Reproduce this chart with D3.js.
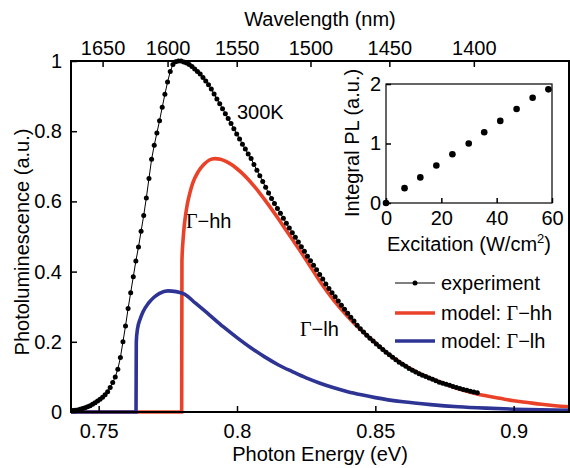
<!DOCTYPE html>
<html>
<head>
<meta charset="utf-8">
<script src="https://cdn.jsdelivr.net/npm/d3@7"></script>
<style>
body { margin: 0; background: #fff; }
svg text { font-family: "Liberation Sans", Arial, sans-serif; fill: #000; }
</style>
</head>
<body>
<div id="chart"></div>
<script>
// measured spectrum (every 2 nm)
var expWavelength = [1674,1672,1670,1668,1666,1664,1662,1660,1658,1656,1654,1652,1650,1648,1646,1644,1642,1640,1638,1636,
  1634,1632,1630,1628,1626,1624,1622,1620,1618,1616,1614,1612,1610,1608,1606,1604,1602,1600,1598,1596,
  1594,1592,1590,1588,1586,1584,1582,1580,1578,1576,1574,1572,1570,1568,1566,1564,1562,1560,1558,1556,
  1554,1552,1550,1548,1546,1544,1542,1540,1538,1536,1534,1532,1530,1528,1526,1524,1522,1520,1518,1516,
  1514,1512,1510,1508,1506,1504,1502,1500,1498,1496,1494,1492,1490,1488,1486,1484,1482,1480,1478,1476,
  1474,1472,1470,1468,1466,1464,1462,1460,1458,1456,1454,1452,1450,1448,1446,1444,1442,1440,1438,1436,
  1434,1432,1430,1428,1426,1424,1422,1420,1418,1416,1414,1412,1410,1408,1406,1404,1402,1400,1398];
var expPL = [0.004,0.005,0.006,0.008,0.010,0.012,0.015,0.018,0.022,0.026,0.031,0.036,0.042,0.049,0.058,0.070,0.084,0.100,0.122,0.155,
  0.200,0.245,0.295,0.340,0.385,0.430,0.470,0.515,0.560,0.610,0.665,0.720,0.760,0.795,0.830,0.868,0.905,0.940,0.970,0.990,
  0.998,1.000,1.000,0.997,0.994,0.990,0.984,0.977,0.970,0.963,0.953,0.943,0.932,0.920,0.906,0.892,0.878,0.864,0.850,0.836,
  0.822,0.807,0.792,0.778,0.763,0.749,0.735,0.722,0.705,0.689,0.673,0.657,0.640,0.624,0.608,0.594,0.580,0.566,0.552,0.538,
  0.524,0.511,0.498,0.484,0.471,0.458,0.444,0.431,0.418,0.405,0.392,0.379,0.365,0.352,0.340,0.328,0.316,0.304,0.293,0.281,
  0.270,0.259,0.247,0.237,0.228,0.219,0.210,0.202,0.194,0.186,0.178,0.170,0.163,0.156,0.149,0.142,0.136,0.130,0.124,0.119,
  0.114,0.109,0.105,0.101,0.097,0.093,0.089,0.085,0.082,0.079,0.076,0.073,0.070,0.067,0.064,0.062,0.059,0.057,0.055];

// model: Gamma-hh
var hhEnergy = [0.74,0.7800,0.7801,0.7805,0.781,0.782,0.783,0.784,0.786,0.788,0.790,0.792,0.794,0.796,0.798,0.800,0.802,0.804,0.806,0.808,
  0.810,0.8125,0.815,0.8175,0.820,0.8225,0.825,0.830,0.835,0.840,0.845,0.850,0.855,0.860,0.865,0.870,0.875,0.880,0.885,0.890,
  0.895,0.900,0.905,0.910,0.915,0.920];
var hhPL = [0,0,0.43,0.49,0.535,0.59,0.625,0.652,0.685,0.705,0.718,0.722,0.720,0.714,0.705,0.693,0.679,0.663,0.645,0.626,
  0.605,0.578,0.550,0.521,0.492,0.463,0.433,0.372,0.318,0.272,0.232,0.197,0.163,0.136,0.114,0.096,0.081,0.066,0.055,0.046,
  0.039,0.032,0.027,0.022,0.018,0.015];

// model: Gamma-lh
var lhEnergy = [0.74,0.7635,0.7636,0.764,0.765,0.766,0.768,0.770,0.772,0.775,0.778,0.781,0.785,0.790,0.795,0.800,0.805,0.810,0.815,0.820,
  0.825,0.830,0.835,0.840,0.845,0.850,0.860,0.870,0.880,0.890,0.900,0.910,0.920];
var lhPL = [0,0,0.20,0.235,0.265,0.285,0.31,0.327,0.338,0.345,0.343,0.336,0.31,0.277,0.243,0.212,0.183,0.157,0.134,0.115,
  0.097,0.082,0.069,0.058,0.049,0.041,0.029,0.021,0.015,0.011,0.008,0.006,0.005];

// inset
var excitation = [0,6.7,12.4,18.2,24.0,29.9,35.5,41.3,47.2,53.0,58.7];
var integralPL = [0,0.25,0.43,0.63,0.82,1.0,1.19,1.38,1.58,1.77,1.91];

var energyTicks = [0.75,0.8,0.85,0.9];
var plTicks = [0,0.2,0.4,0.6,0.8,1];
var wavelengthTicks = [1650,1600,1550,1500,1450,1400];
var excitationTicks = [0,20,40,60];
var integralTicks = [0,1,2];

var width = 570, height = 468;
var red = 'rgb(234,66,40)', blue = 'rgb(46,52,148)';

var svg = d3.select('#chart').append('svg')
  .attr('width', width)
  .attr('height', height);

var x = d3.scaleLinear().domain([0.74, 0.92]).range([71, 569]);
var y = d3.scaleLinear().domain([0, 1]).range([412, 61]);

// curves
var line = d3.line()
  .x(function(d){ return x(d[0]); })
  .y(function(d){ return y(d[1]); })
  .curve(d3.curveMonotoneX);

svg.append('path')
  .datum(d3.zip(hhEnergy, hhPL))
  .attr('d', line)
  .attr('fill', 'none')
  .attr('stroke', red)
  .attr('stroke-width', 3.6);

svg.append('path')
  .datum(d3.zip(lhEnergy, lhPL))
  .attr('d', line)
  .attr('fill', 'none')
  .attr('stroke', blue)
  .attr('stroke-width', 3.6);

var expData = expWavelength.map(function(w, i){ return [1239.84 / w, expPL[i]]; });

svg.append('path')
  .datum(expData)
  .attr('d', d3.line().x(function(d){ return x(d[0]); }).y(function(d){ return y(d[1]); }))
  .attr('fill', 'none')
  .attr('stroke', '#000')
  .attr('stroke-width', 1);

svg.selectAll('circle.exp')
  .data(expData)
  .enter()
  .append('circle')
  .attr('class', 'exp')
  .attr('cx', function(d){ return x(d[0]); })
  .attr('cy', function(d){ return y(d[1]); })
  .attr('r', 2.5)
  .attr('fill', '#000');

// axes
var fmt = d3.format('~g');
function styleAxis(g) {
  g.select('.domain').remove();
  g.selectAll('.tick line').attr('stroke', '#000').attr('stroke-width', 1.5);
  g.selectAll('.tick text').attr('font-size', 20).attr('font-family', '"Liberation Sans", Arial, sans-serif');
}

svg.append('g')
  .attr('transform', 'translate(0,412)')
  .call(d3.axisBottom(x).tickValues(energyTicks).tickFormat(fmt).tickSize(-6).tickPadding(12))
  .call(styleAxis);

svg.append('g')
  .attr('transform', 'translate(71,0)')
  .call(d3.axisLeft(y).tickValues(plTicks).tickFormat(fmt).tickSize(-6).tickPadding(9))
  .call(styleAxis);

svg.append('g')
  .attr('transform', 'translate(0,61)')
  .call(d3.axisTop(x).tickValues(wavelengthTicks.map(function(w){ return 1239.84 / w; }))
    .tickFormat(function(e){ return Math.round(1239.84 / e); }).tickSize(-6).tickPadding(6))
  .call(styleAxis);

svg.append('rect')
  .attr('x', 71).attr('y', 61)
  .attr('width', 498).attr('height', 351)
  .attr('fill', 'none')
  .attr('stroke', '#000')
  .attr('stroke-width', 2);

// titles
svg.append('text').attr('x', 320).attr('y', 26).attr('text-anchor', 'middle')
  .attr('font-size', 20).text('Wavelength (nm)');
svg.append('text').attr('x', 320).attr('y', 461).attr('text-anchor', 'middle')
  .attr('font-size', 20).text('Photon Energy (eV)');
svg.append('text').attr('transform', 'translate(29,242) rotate(-90)').attr('text-anchor', 'middle')
  .attr('font-size', 20).text('Photoluminescence (a.u.)');

// annotations
svg.append('text').attr('x', 237).attr('y', 119).attr('font-size', 20).text('300K');

function gammaLabel(g, px, py, rest) {
  var t = g.append('text').attr('x', px).attr('y', py).attr('font-size', 20);
  t.append('tspan').attr('font-family', '"Liberation Serif", "Times New Roman", serif').text('\u0393');
  t.append('tspan').text('\u2212' + rest);
  return t;
}
gammaLabel(svg, 186, 228, 'hh');
gammaLabel(svg, 300, 336, 'lh');

// legend
var legend = svg.append('g');
var legendY = [283, 313, 341];
legend.append('line').attr('x1', 395).attr('x2', 435).attr('y1', legendY[0]).attr('y2', legendY[0])
  .attr('stroke', '#000').attr('stroke-width', 1);
legend.append('circle').attr('cx', 415).attr('cy', legendY[0]).attr('r', 2.5).attr('fill', '#000');
legend.append('line').attr('x1', 395).attr('x2', 435).attr('y1', legendY[1]).attr('y2', legendY[1])
  .attr('stroke', red).attr('stroke-width', 3.6);
legend.append('line').attr('x1', 395).attr('x2', 435).attr('y1', legendY[2]).attr('y2', legendY[2])
  .attr('stroke', blue).attr('stroke-width', 3.6);
legend.append('text').attr('x', 441).attr('y', legendY[0] + 7).attr('font-size', 20).text('experiment');
var t1 = legend.append('text').attr('x', 441).attr('y', legendY[1] + 7).attr('font-size', 20);
t1.append('tspan').text('model: ');
t1.append('tspan').attr('font-family', '"Liberation Serif", "Times New Roman", serif').text('\u0393');
t1.append('tspan').text('\u2212hh');
var t2 = legend.append('text').attr('x', 441).attr('y', legendY[2] + 7).attr('font-size', 20);
t2.append('tspan').text('model: ');
t2.append('tspan').attr('font-family', '"Liberation Serif", "Times New Roman", serif').text('\u0393');
t2.append('tspan').text('\u2212lh');

// inset
var ix = d3.scaleLinear().domain([0, 60]).range([386, 552]);
var iy = d3.scaleLinear().domain([0, 2]).range([203, 84]);

svg.append('rect')
  .attr('x', 386).attr('y', 84)
  .attr('width', 166).attr('height', 119)
  .attr('fill', '#fff');

svg.append('g')
  .attr('transform', 'translate(0,203)')
  .call(d3.axisBottom(ix).tickValues(excitationTicks).tickFormat(fmt).tickSize(-5).tickPadding(8))
  .call(styleAxis);
svg.append('g')
  .attr('transform', 'translate(386,0)')
  .call(d3.axisLeft(iy).tickValues(integralTicks).tickFormat(fmt).tickSize(-5).tickPadding(5))
  .call(styleAxis);

svg.append('rect')
  .attr('x', 386).attr('y', 84)
  .attr('width', 166).attr('height', 119)
  .attr('fill', 'none')
  .attr('stroke', '#000')
  .attr('stroke-width', 1.2);

svg.selectAll('circle.inset')
  .data(d3.zip(excitation, integralPL))
  .enter()
  .append('circle')
  .attr('class', 'inset')
  .attr('cx', function(d){ return ix(d[0]); })
  .attr('cy', function(d){ return iy(d[1]); })
  .attr('r', 3.3)
  .attr('fill', '#000');

var xt = svg.append('text').attr('x', 469).attr('y', 251).attr('text-anchor', 'middle').attr('font-size', 20);
xt.append('tspan').text('Excitation (W/cm');
xt.append('tspan').attr('font-size', 13).attr('dy', -8).text('2');
xt.append('tspan').attr('dy', 8).text(')');
svg.append('text').attr('transform', 'translate(359,143) rotate(-90)').attr('text-anchor', 'middle')
  .attr('font-size', 20).text('Integral PL (a.u.)');
</script>
</body>
</html>
